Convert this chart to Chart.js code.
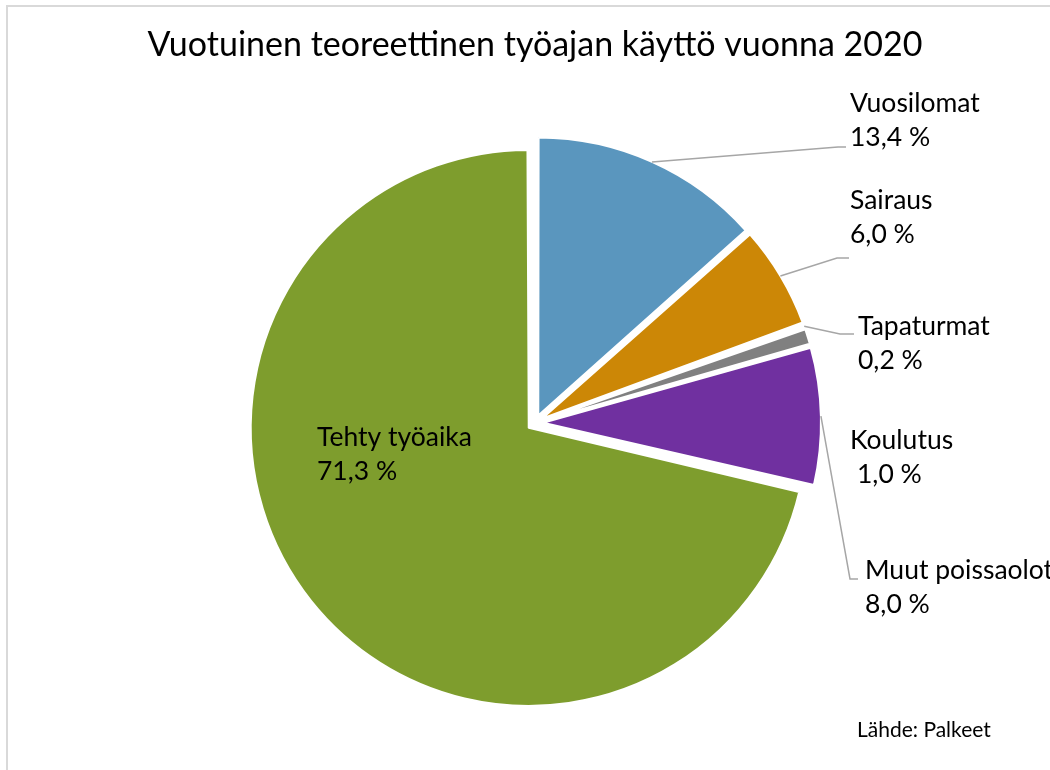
<!DOCTYPE html>
<html>
<head>
<meta charset="utf-8">
<script src="https://cdn.jsdelivr.net/npm/chart.js@4.4.1/dist/chart.umd.min.js"></script>
<style>
  html, body { margin: 0; padding: 0; background: #fff; }
  #wrap { width: 1050px; height: 770px; position: relative; }
</style>
</head>
<body>
<div id="wrap"><canvas id="pie"></canvas></div>
<script>
const categories = ['Vuosilomat', 'Sairaus', 'Tapaturmat', 'Koulutus', 'Muut poissaolot', 'Tehty työaika'];
const shares = [13.4, 6.0, 0.2, 1.0, 8.0, 71.3];
const sliceColors = ['#5A96BE', '#CC8706', '#BFBFBF', '#808080', '#7030A0', '#7E9D2D'];
const titleText = 'Vuotuinen teoreettinen työajan käyttö vuonna 2020';
const sourceText = 'Lähde: Palkeet';

// where the Excel-style labels sit (baseline of first line) and their leader line bends
const labelSpots = [
  { x: 850, y: 112, lead: [[838, 147], [846, 147]] },
  { x: 850, y: 209, lead: [[837, 258], [849, 258]] },
  { x: 858, y: 335, lead: [[840, 334], [854, 334]] },
  { x: 850, y: 449, x2: 857 },
  { x: 865, y: 579, lead: [[850, 579], [858, 579]] },
  { x: 317, y: 446 }
];

const EXPLODE = 32; // chart.js shifts a slice by offset / 4
const FONT = 'Lato, "Open Sans", sans-serif';

const fmt = v => v.toFixed(1).replace('.', ',') + ' %';

const excelLabels = {
  id: 'excelLabels',
  beforeDraw(chart) {
    const ctx = chart.ctx;
    ctx.save();
    ctx.strokeStyle = '#D9D9D9';
    ctx.lineWidth = 2;
    ctx.beginPath();
    ctx.moveTo(7, 770);
    ctx.lineTo(7, 6);
    ctx.lineTo(1050, 6);
    ctx.stroke();
    ctx.restore();
  },
  beforeDatasetsDraw(chart) {
    // keep all exploded slices at the same radius
    const meta = chart.getDatasetMeta(0);
    const R = meta.controller.outerRadius;
    meta.data.forEach(arc => {
      const circ = arc.endAngle - arc.startAngle;
      const fix = 1 - Math.sin(Math.min(Math.PI, circ));
      arc.outerRadius = R - (EXPLODE / 4) * fix;
    });
  },
  afterDatasetsDraw(chart) {
    const ctx = chart.ctx;
    const meta = chart.getDatasetMeta(0);
    const R = meta.controller.outerRadius;
    const sh = EXPLODE / 4;
    ctx.save();
    meta.data.forEach((arc, i) => {
      const spot = labelSpots[i];
      const mid = (arc.startAngle + arc.endAngle) / 2;
      const cx = arc.x + Math.cos(mid) * sh;
      const cy = arc.y + Math.sin(mid) * sh;
      if (spot.lead) {
        ctx.strokeStyle = '#A6A6A6';
        ctx.lineWidth = 1.5;
        ctx.beginPath();
        ctx.moveTo(cx + Math.cos(mid) * R, cy + Math.sin(mid) * R);
        spot.lead.forEach(p => ctx.lineTo(p[0], p[1]));
        ctx.stroke();
      }
      ctx.fillStyle = '#000';
      ctx.font = '26.5px ' + FONT;
      ctx.textAlign = 'left';
      ctx.textBaseline = 'alphabetic';
      ctx.fillText(categories[i], spot.x, spot.y);
      ctx.fillText(fmt(shares[i]), spot.x2 || spot.x, spot.y + 34);
    });
    ctx.font = '21px ' + FONT;
    ctx.fillText(sourceText, 857, 737);
    ctx.restore();
  }
};

new Chart(document.getElementById('pie'), {
  type: 'pie',
  data: {
    labels: categories,
    datasets: [{
      data: shares,
      backgroundColor: sliceColors,
      borderColor: '#FFFFFF',
      borderWidth: 2,
      offset: EXPLODE,
      radius: 278
    }]
  },
  options: {
    responsive: true,
    maintainAspectRatio: false,
    animation: false,
    events: [],
    layout: { padding: { left: 20, right: 0, top: 0, bottom: 0 } },
    plugins: {
      legend: { display: false },
      tooltip: { enabled: false },
      title: {
        display: true,
        text: titleText,
        color: '#000',
        font: { family: FONT, size: 34, weight: 'normal' },
        padding: { top: 25, bottom: 10 }
      }
    }
  },
  plugins: [excelLabels]
});
</script>
</body>
</html>
